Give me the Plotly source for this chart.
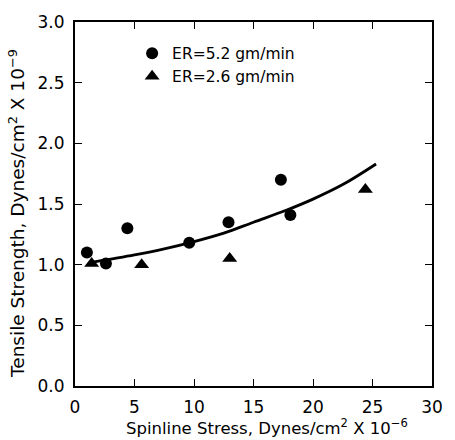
import plotly.graph_objects as go

# Data
er52_x = [1.0, 2.6, 4.4, 9.6, 12.9, 17.3, 18.1]
er52_y = [1.10, 1.01, 1.30, 1.18, 1.35, 1.70, 1.41]
er26_x = [1.4, 5.6, 13.0, 24.4]
er26_y = [1.01, 1.00, 1.05, 1.62]
fit_x = [1.5, 5.0, 7.5, 10.0, 12.5, 15.0, 17.8, 20.0, 22.5, 25.3]
fit_y = [1.02, 1.08, 1.13, 1.19, 1.26, 1.35, 1.45, 1.54, 1.66, 1.83]
x_ticks = [0, 5, 10, 15, 20, 25, 30]
y_ticks = [0.0, 0.5, 1.0, 1.5, 2.0, 2.5, 3.0]

FONT = "DejaVu Sans"

fig = go.Figure()
fig.add_trace(go.Scatter(x=fit_x, y=fit_y, mode="lines", line=dict(color="black", width=2.8, shape="spline"),
                         showlegend=False, hoverinfo="skip"))
fig.add_trace(go.Scatter(x=er52_x, y=er52_y, mode="markers", name="ER=5.2 gm/min",
                         marker=dict(symbol="circle", size=12, color="black")))
fig.add_trace(go.Scatter(x=er26_x, y=er26_y, mode="markers", name="ER=2.6 gm/min",
                         marker=dict(symbol="triangle-up", size=13, color="black")))

axis_common = dict(showline=True, linecolor="black", linewidth=2, mirror="ticks",
                   ticks="inside", ticklen=7, tickcolor="black", tickwidth=1.2,
                   showgrid=False, zeroline=False,
                   tickfont=dict(family=FONT, size=17, color="black"))

fig.update_xaxes(range=[0, 30], tickvals=x_ticks, ticktext=[str(v) for v in x_ticks],
                 ticklabelstandoff=5, **axis_common)
fig.update_yaxes(range=[0, 3], tickvals=y_ticks, ticktext=[f"{v:.1f}" for v in y_ticks],
                 ticklabelstandoff=5, **axis_common)

fig.add_annotation(text="Spinline Stress, Dynes/cm<sup>2</sup> X 10<sup>−6</sup>",
                   xref="paper", yref="paper", x=0.537, y=-0.148, xanchor="center", yanchor="bottom",
                   showarrow=False, font=dict(family=FONT, size=16.5, color="black"))
fig.add_annotation(text="Tensile Strength, Dynes/cm<sup>2</sup> X 10<sup>−9</sup>",
                   xref="paper", yref="paper", x=-0.163, y=0.475, xanchor="center", yanchor="middle",
                   textangle=-90, showarrow=False, font=dict(family=FONT, size=18.5, color="black"))

fig.update_layout(
    width=455, height=440,
    margin=dict(l=75, r=12, t=14, b=54),
    paper_bgcolor="white", plot_bgcolor="white",
    font=dict(family=FONT, size=15, color="black"),
    legend=dict(x=0.16, y=0.96, xanchor="left", yanchor="top", bgcolor="rgba(0,0,0,0)",
                font=dict(family=FONT, size=15.5, color="black"), itemwidth=30),
)

fig.write_html("out.html")
